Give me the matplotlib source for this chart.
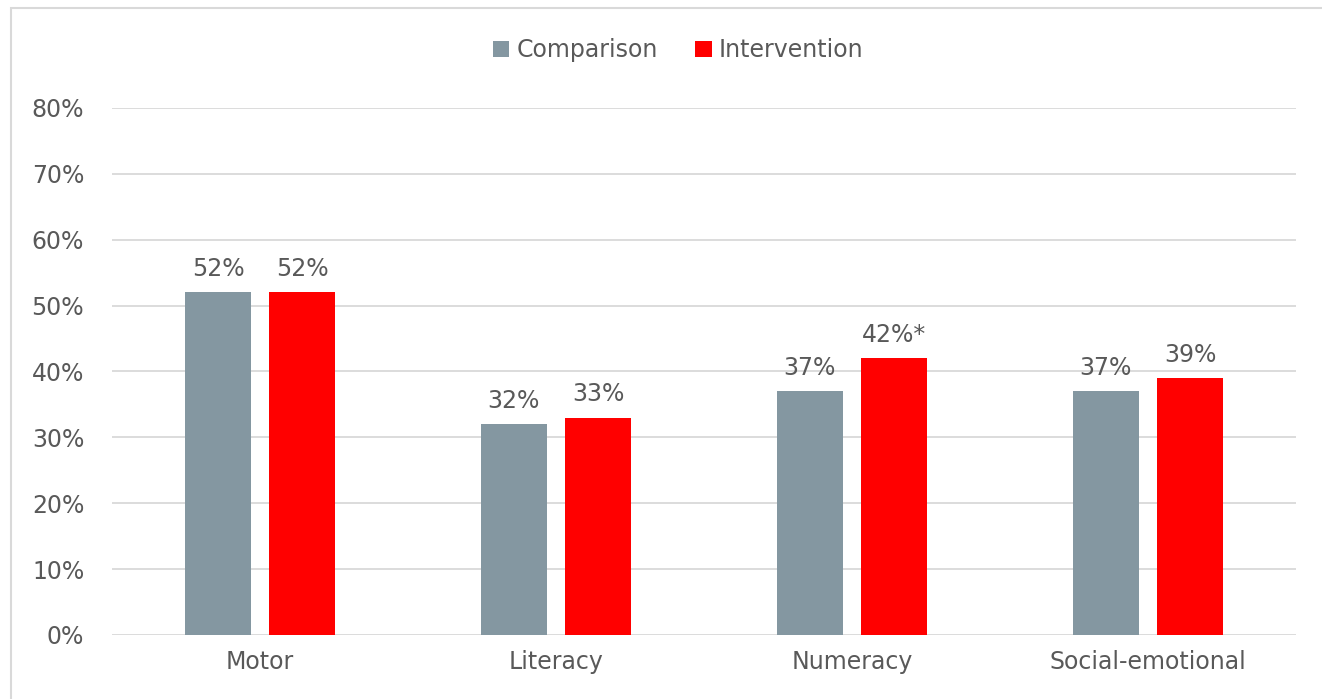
import matplotlib.pyplot as plt
import numpy as np
from matplotlib.patches import Rectangle

plt.rcParams['font.family'] = ['DejaVu Sans']

categories = ['Motor', 'Literacy', 'Numeracy', 'Social-emotional']
comparison = [52, 32, 37, 37]
intervention = [52, 33, 42, 39]
comp_labels = ['52%', '32%', '37%', '37%']
int_labels = ['52%', '33%', '42%*', '39%']

grey = '#8497a1'
red = '#ff0000'
txt = '#595959'
fs = 17

fig = plt.figure(figsize=(13.22, 6.99), dpi=100)
ax = fig.add_axes([0.0847, 0.0916, 0.8956, 0.754])

# outer frame of the chart
fig.patches.append(Rectangle((0.008, -0.01), 1.1, 0.998, transform=fig.transFigure,
                             fill=False, edgecolor='#d9d9d9', linewidth=1.5))

x = np.arange(len(categories))
w = 0.223
off = 0.142
b1 = ax.bar(x - off, comparison, w, color=grey, label='Comparison', zorder=3)
b2 = ax.bar(x + off, intervention, w, color=red, label='Intervention', zorder=3)

for bars, labs in [(b1, comp_labels), (b2, int_labels)]:
    for b, lab in zip(bars, labs):
        ax.annotate(lab, (b.get_x() + b.get_width() / 2, b.get_height()),
                    xytext=(0, 8), textcoords='offset points', ha='center', va='bottom',
                    fontsize=fs, color=txt)

ax.set_xlim(-0.5, 3.5)
ax.set_ylim(0, 80)
ax.set_yticks(range(0, 81, 10))
ax.set_yticklabels([f'{v}%' for v in range(0, 81, 10)])
ax.set_xticks(x)
ax.set_xticklabels(categories)
ax.tick_params(axis='both', length=0, labelsize=fs, labelcolor=txt)
ax.tick_params(axis='y', pad=20)
ax.tick_params(axis='x', pad=11)
ax.grid(axis='y', color='#d9d9d9', linewidth=1.3, zorder=0)
for s in ax.spines.values():
    s.set_visible(False)

fig.legend(handles=[b1, b2], loc='center', bbox_to_anchor=(0.513, 0.928), ncol=2,
           frameon=False, fontsize=fs, labelcolor=txt, handlelength=0.7, handleheight=0.7,
           handletextpad=0.3, columnspacing=1.6)

fig.savefig('out.png', dpi=100)
